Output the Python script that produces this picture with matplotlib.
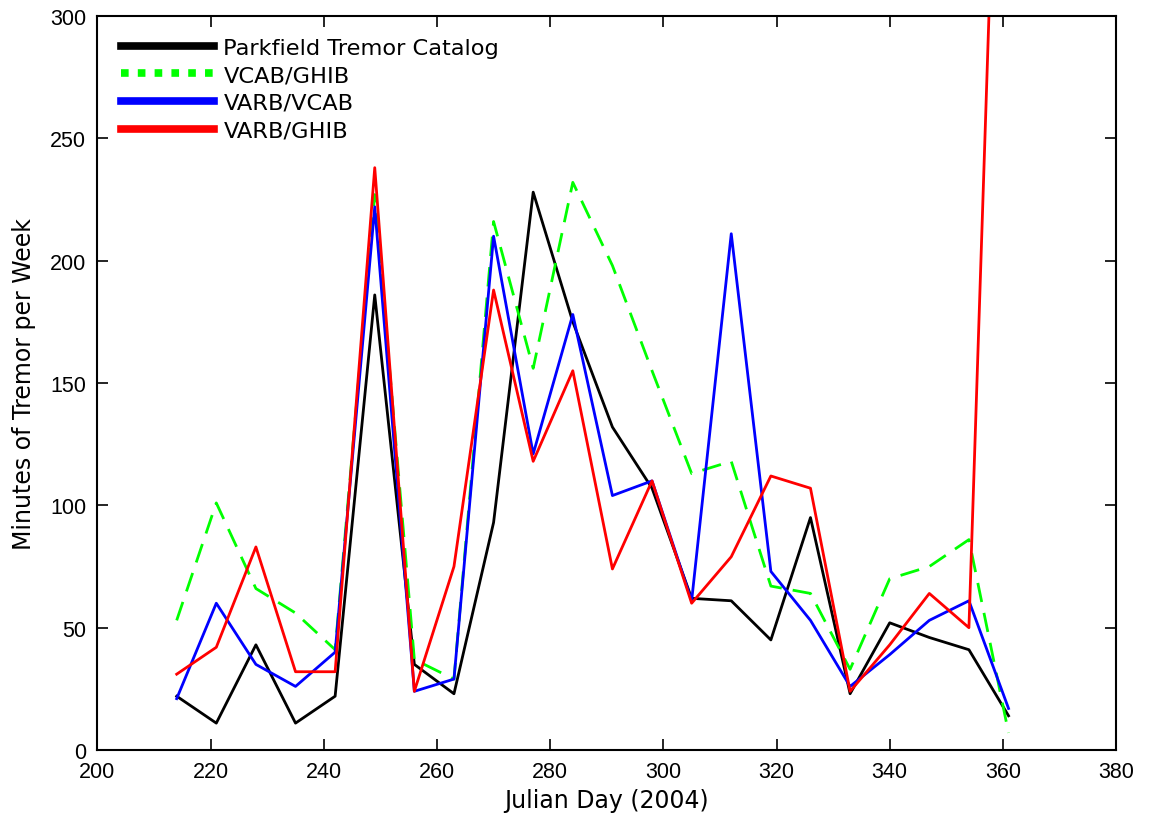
import numpy as np
import matplotlib
matplotlib.use("Agg")
import matplotlib.pyplot as plt
from matplotlib.lines import Line2D

# Julian days (weekly bins)
days = [214, 221, 228, 235, 242, 249, 256, 263, 270, 277, 284, 291,
        298, 305, 312, 319, 326, 333, 340, 347, 354, 361]

# minutes of tremor per week
parkfield = [22, 11, 43, 11, 22, 186, 35, 23, 93, 228, 175, 132,
             107, 62, 61, 45, 95, 23, 52, 46, 41, 14]
vcab_ghib = [53, 101, 66, 56, 41, 227, 37, 29, 216, 156, 232, 198,
             155, 113, 118, 67, 64, 33, 70, 75, 86, 7]
varb_vcab = [21, 60, 35, 26, 40, 222, 24, 29, 210, 121, 178, 104,
             110, 61, 211, 73, 53, 26, 39, 53, 61, 17]
varb_ghib = [31, 42, 83, 32, 32, 238, 24, 75, 188, 118, 155, 74,
             110, 60, 79, 112, 107, 24, 43, 64, 50, 545]

labels = ["Parkfield Tremor Catalog", "VCAB/GHIB", "VARB/VCAB", "VARB/GHIB"]

fig = plt.figure(figsize=(11.52, 8.2), dpi=100)
ax = fig.add_axes([0.0846, 0.0841, 0.8842, 0.8952])

lw = 2.0
ax.plot(days, parkfield, color="black", lw=lw)
ax.plot(days, vcab_ghib, color="#00ff00", lw=lw, dashes=(7, 4))
ax.plot(days, varb_vcab, color="blue", lw=lw)
ax.plot(days, varb_ghib, color="red", lw=lw)

ax.set_xlim(200, 380)
ax.set_ylim(0, 300)
ax.set_xticks(np.arange(200, 381, 20))
ax.set_yticks(np.arange(0, 301, 50))

for lab in ax.get_xticklabels() + ax.get_yticklabels():
    lab.set_family("Liberation Sans")
ax.tick_params(direction="in", length=8, width=1.2, top=True, right=True,
               labelsize=15.5, pad=8)
for s in ax.spines.values():
    s.set_linewidth(1.5)

ax.set_xlabel("Julian Day (2004)", fontsize=17, labelpad=4)
ax.set_ylabel("Minutes of Tremor per Week", fontsize=17, labelpad=10)

# legend with thick handles
handles = [
    Line2D([], [], color="black", lw=5.5),
    Line2D([], [], color="#00ff00", lw=5.5, dashes=(1.0, 1.2)),
    Line2D([], [], color="blue", lw=5.5),
    Line2D([], [], color="red", lw=5.5),
]
ax.legend(handles, labels, loc="upper left", frameon=False, fontsize=16.2,
          handlelength=4.15, handletextpad=0.42, labelspacing=0.34,
          borderaxespad=0.4, bbox_to_anchor=(0.005, 0.995))

fig.savefig("out.png", dpi=100)
